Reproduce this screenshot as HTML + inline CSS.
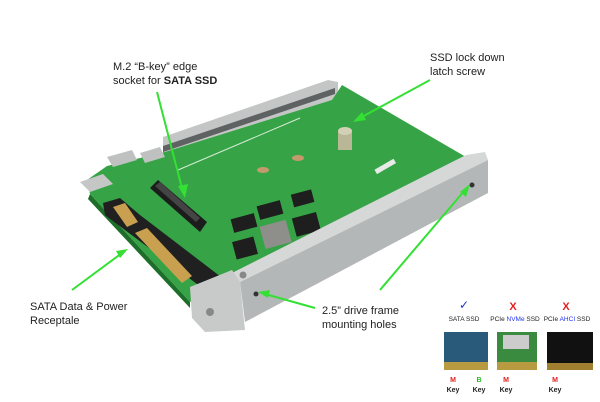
<!DOCTYPE html>
<html><head><style>
body{margin:0;background:#fff;width:600px;height:402px;overflow:hidden;font-family:"Liberation Sans",sans-serif}
svg{display:block}
</style></head><body>
<svg width="600" height="402" viewBox="0 0 600 402" font-family="Liberation Sans, sans-serif">
<!-- back rail -->
<polygon points="163,137 328,80 338,82 338,100 163,160" fill="#c4c6c6"/>
<polygon points="163,146 335,88 335,94 163,152" fill="#5e6262"/>
<!-- green board -->
<polygon points="87,180 107,166 165,152 332,100 342,85 466,157 232,277 190,302 90,194" fill="#36a446"/>
<polygon points="90,194 190,302 190,308 88,199" fill="#1d6e2a"/>
<line x1="178" y1="170" x2="300" y2="118" stroke="#d8ecd8" stroke-width="1"/>
<!-- label sticker -->
<rect x="374" y="164" width="22" height="5" fill="#e8eae8" transform="rotate(-30 385 166)"/>
<!-- screw -->
<rect x="338" y="130" width="14" height="20" fill="#b9b795"/>
<ellipse cx="345" cy="131" rx="7" ry="4" fill="#d3d1b5"/>
<!-- holes -->
<ellipse cx="298" cy="158" rx="6" ry="3" fill="#c49a6c"/>
<ellipse cx="263" cy="170" rx="6" ry="3" fill="#c49a6c"/>
<!-- M.2 socket -->
<polygon points="150,188 158,180 207,222 200,232" fill="#1c1c1c"/>
<polygon points="155,186 160,182 200,218 196,222" fill="#444"/>
<!-- chips -->
<rect x="232" y="216" width="24" height="14" fill="#1e1e1e" transform="rotate(-15 244 223)"/>
<rect x="258" y="203" width="24" height="14" fill="#1e1e1e" transform="rotate(-15 270 210)"/>
<rect x="292" y="192" width="21" height="13" fill="#1e1e1e" transform="rotate(-15 302 198)"/>
<rect x="294" y="215" width="25" height="19" fill="#1e1e1e" transform="rotate(-15 306 225)"/>
<rect x="262" y="223" width="27" height="23" fill="#8e8e8a" transform="rotate(-15 275 234)"/>
<rect x="234" y="239" width="22" height="18" fill="#1e1e1e" transform="rotate(-15 245 248)"/>
<!-- SATA connector -->
<polygon points="103,203 120,198 140,215 225,280 225,292 213,296 105,215" fill="#202020"/>
<polygon points="113,207 125,203 138,222 127,227" fill="#c8a050"/>
<polygon points="135,233 147,228 192,276 182,283" fill="#c8a050"/>
<!-- left brackets -->
<polygon points="80,182 103,174 113,184 90,192" fill="#c5c7c7"/>
<polygon points="107,157 132,150 137,160 113,167" fill="#bfc1c1"/>
<polygon points="140,153 160,147 165,157 145,163" fill="#bfc1c1"/>
<!-- front rail -->
<polygon points="228,275 466,155 485,152 488,160 240,282" fill="#d6d8d8"/>
<polygon points="240,282 488,160 488,193 245,322" fill="#b4b7b7"/>
<!-- front bracket -->
<polygon points="190,287 232,270 240,282 245,330 205,332 192,318" fill="#c8caca"/>
<circle cx="210" cy="312" r="4" fill="#888"/>
<circle cx="243" cy="275" r="3.5" fill="#888"/>
<circle cx="256" cy="294" r="2.5" fill="#333"/>
<circle cx="472" cy="185" r="2.5" fill="#333"/>
<!-- arrows -->
<g stroke="#33e033" stroke-width="2" fill="#33e033">
<line x1="157" y1="92" x2="183" y2="192"/><polygon points="185,198 178,186 188,184" stroke="none"/>
<line x1="430" y1="80" x2="360" y2="118"/><polygon points="353,122 362,112 366,120" stroke="none"/>
<line x1="72" y1="290" x2="122" y2="253"/><polygon points="128,249 120,258 116,251" stroke="none"/>
<line x1="380" y1="290" x2="465" y2="190"/><polygon points="470,184 466,197 460,192" stroke="none"/>
<line x1="315" y1="308" x2="265" y2="294"/><polygon points="258,292 270,290 268,298" stroke="none"/>
</g>
<!-- labels -->
<g font-size="11" fill="#222">
<text x="113" y="70">M.2 “B-key” edge</text>
<text x="113" y="84">socket for <tspan font-weight="bold">SATA SSD</tspan></text>
<text x="430" y="61">SSD lock down</text>
<text x="430" y="75">latch screw</text>
<text x="30" y="310">SATA Data &amp; Power</text>
<text x="30" y="324">Receptale</text>
<text x="322" y="314">2.5” drive frame</text>
<text x="322" y="328">mounting holes</text>
</g>
<!-- compatibility panel -->
<g font-size="6.5" fill="#222" text-anchor="middle">
<text x="464" y="309" font-size="12" fill="#2233cc">✓</text>
<text x="513" y="310" font-size="11" fill="#e02020" font-weight="bold">X</text>
<text x="566" y="310" font-size="11" fill="#e02020" font-weight="bold">X</text>
<text x="464" y="321">SATA SSD</text>
<text x="515" y="321">PCIe <tspan fill="#2233ee">NVMe</tspan> SSD</text>
<text x="567" y="321">PCIe <tspan fill="#2233ee">AHCI</tspan> SSD</text>
</g>
<rect x="444" y="332" width="44" height="38" fill="#2a5a7a"/>
<rect x="444" y="362" width="44" height="8" fill="#b89a40"/>
<rect x="497" y="332" width="40" height="38" fill="#3a8a40"/>
<rect x="503" y="335" width="26" height="14" fill="#ccc"/>
<rect x="497" y="362" width="40" height="8" fill="#b89a40"/>
<rect x="547" y="332" width="46" height="38" fill="#111"/>
<rect x="547" y="363" width="46" height="7" fill="#a08030"/>
<g font-size="7" font-weight="bold" text-anchor="middle">
<text x="453" y="382" fill="#e02020">M</text><text x="479" y="382" fill="#22bb22">B</text>
<text x="506" y="382" fill="#e02020">M</text><text x="555" y="382" fill="#e02020">M</text>
<text x="453" y="392" fill="#222">Key</text><text x="479" y="392" fill="#222">Key</text>
<text x="506" y="392" fill="#222">Key</text><text x="555" y="392" fill="#222">Key</text>
</g>
</svg>
</body></html>
